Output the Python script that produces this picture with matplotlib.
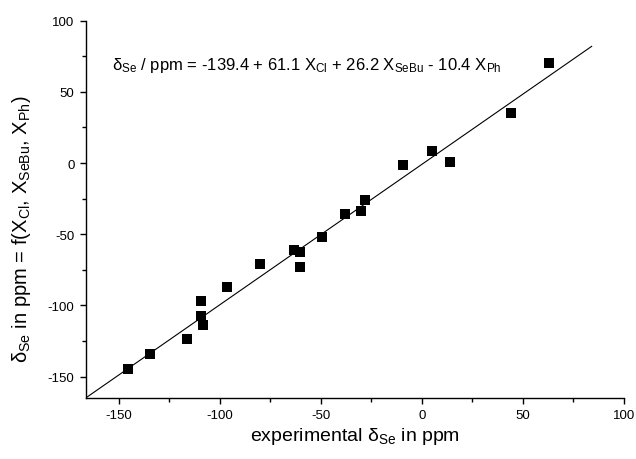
import matplotlib
matplotlib.use("Agg")
import matplotlib.pyplot as plt
from matplotlib.ticker import MultipleLocator

plt.rcParams['font.family'] = ['Liberation Sans', 'DejaVu Sans']
plt.rcParams['mathtext.fontset'] = 'custom'
plt.rcParams['mathtext.rm'] = 'Liberation Sans'
plt.rcParams['mathtext.it'] = 'Liberation Sans:italic'
plt.rcParams['mathtext.bf'] = 'Liberation Sans:bold'
plt.rcParams['mathtext.default'] = 'regular'
plt.rcParams['axes.unicode_minus'] = False

# experimental vs. calculated shifts
exp_shift = [-145.4, -134.7, -116.5, -109.6, -109.6, -108.3, -96.5, -80.3,
             -63.5, -60.4, -60.4, -49.4, -38.3, -30.3, -28.2, -9.3, 5.0, 13.9,
             43.9, 62.9]
calc_shift = [-144.3, -134.2, -123.7, -97.2, -107.3, -113.6, -86.9, -71.0,
              -60.7, -62.5, -72.9, -52.2, -36.1, -34.0, -25.8, -1.2, 8.6, 0.5,
              35.4, 70.3]
fit_x = [-166.5, 84.0]
fit_y = [-165.0, 82.0]

xticks = [-150, -100, -50, 0, 50, 100]
yticks = [-150, -100, -50, 0, 50, 100]

fig = plt.figure(figsize=(6.36, 4.60), dpi=100)
ax = fig.add_axes([0.1347, 0.1326, 0.9811 - 0.1347, 0.9528 - 0.1326])

ax.plot(fit_x, fit_y, color='black', lw=0.8)
ax.plot(exp_shift, calc_shift, 's', color='black', markersize=6.6,
        markeredgewidth=0)

ax.set_xlim(-166.5, 100)
ax.set_ylim(-165, 100)
ax.set_xticks(xticks)
ax.set_yticks(yticks)
ax.xaxis.set_minor_locator(MultipleLocator(25))
ax.yaxis.set_minor_locator(MultipleLocator(25))
ax.spines['top'].set_visible(False)
ax.spines['right'].set_visible(False)
for s in ['left', 'bottom']:
    ax.spines[s].set_linewidth(1.0)
ax.tick_params(which='major', direction='out', length=4, width=1.0,
               labelsize=9.5, pad=4)
ax.tick_params(which='minor', direction='out', length=2.6, width=1.0)

ax.set_xlabel(r'experimental $\delta_{Se}$ in ppm', fontsize=14, labelpad=3)
ax.set_ylabel(r'$\delta_{Se}$ in ppm = f(X$_{Cl}$, X$_{SeBu}$, X$_{Ph}$)',
              fontsize=14.5, labelpad=6)
ax.yaxis.set_label_coords(-0.097, 0.45)

ax.text(-153.5, 66, r'$\delta_{Se}$ / ppm = -139.4 + 61.1 X$_{Cl}$ + 26.2 X$_{SeBu}$ - 10.4 X$_{Ph}$',
        fontsize=12, ha='left', va='baseline')

fig.savefig('out.png', dpi=100)
